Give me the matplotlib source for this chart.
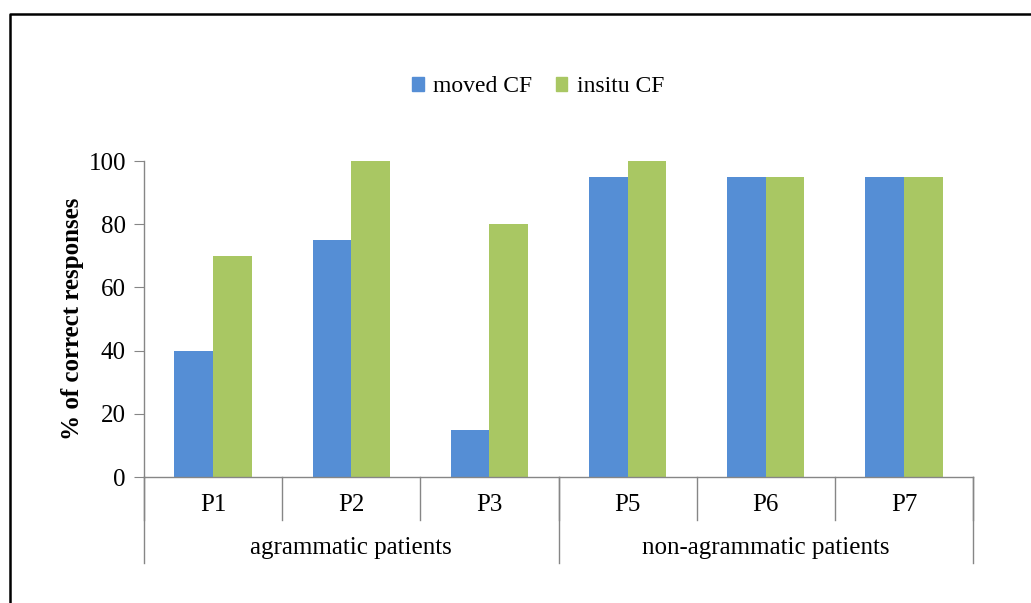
import matplotlib
matplotlib.use("Agg")
import matplotlib.pyplot as plt
from matplotlib.lines import Line2D
from matplotlib.patches import Patch

plt.rcParams['font.family'] = ['Liberation Serif', 'DejaVu Serif']

patients = ['P1', 'P2', 'P3', 'P5', 'P6', 'P7']
groups = ['agrammatic patients', 'non-agrammatic patients']
group_sizes = [3, 3]
moved_cf = [40, 75, 15, 95, 95, 95]
insitu_cf = [70, 100, 80, 100, 95, 95]

blue = '#558ed5'
green = '#a9c763'
axis_gray = '#868686'

W, H = 1031, 603
fig = plt.figure(figsize=(W / 100, H / 100), dpi=100)
ax = fig.add_axes([144 / W, 1 - 477 / H, (973 - 144) / W, (477 - 161) / H])

x = list(range(len(patients)))
bw = 0.28
ax.bar([i - bw / 2 for i in x], moved_cf, width=bw, color=blue, label='moved CF')
ax.bar([i + bw / 2 for i in x], insitu_cf, width=bw, color=green, label='insitu CF')

ax.set_xlim(-0.5, len(patients) - 0.5)
ax.set_ylim(0, 100)
ax.set_yticks(range(0, 101, 20))
ax.tick_params(axis='y', length=7, color=axis_gray, labelsize=18, pad=6)
ax.set_xticks([])
for s in ['top', 'right']:
    ax.spines[s].set_visible(False)
for s in ['left', 'bottom']:
    ax.spines[s].set_color(axis_gray)
    ax.spines[s].set_linewidth(1.0)

ax.set_ylabel('% of correct responses', fontsize=18, fontweight='bold', labelpad=3)

# multi-level category axis
trans = ax.get_xaxis_transform()
sub_depth = -43 / 316
grp_depth = -86 / 316
for i in range(len(patients) + 1):
    ax.add_line(Line2D([i - 0.5, i - 0.5], [0, sub_depth], transform=trans,
                       color=axis_gray, lw=1.0, clip_on=False))
for i, name in enumerate(patients):
    ax.text(i, -28 / 316, name, transform=trans, ha='center', va='center', fontsize=18)

start = 0
bounds = [0]
for g, n in zip(groups, group_sizes):
    bounds.append(start + n)
    ax.text(start + n / 2 - 0.5, -71 / 316, g, transform=trans, ha='center',
            va='center', fontsize=18)
    start += n
for b in bounds:
    ax.add_line(Line2D([b - 0.5, b - 0.5], [0, grp_depth], transform=trans,
                       color=axis_gray, lw=1.0, clip_on=False))

handles = [Patch(color=blue, label='moved CF'), Patch(color=green, label='insitu CF')]
fig.legend(handles=handles, loc='center', bbox_to_anchor=(538 / W, 1 - 87 / H), ncol=2,
           frameon=False, fontsize=17, handlelength=0.5, handleheight=0.55,
           handletextpad=0.4, columnspacing=1.0)

# outer frame
fig.add_artist(Line2D([10 / W, 10 / W, 1], [0, 1 - 14 / H, 1 - 14 / H],
                      transform=fig.transFigure, color='black', lw=1.8))

fig.savefig('out.png', dpi=100)
